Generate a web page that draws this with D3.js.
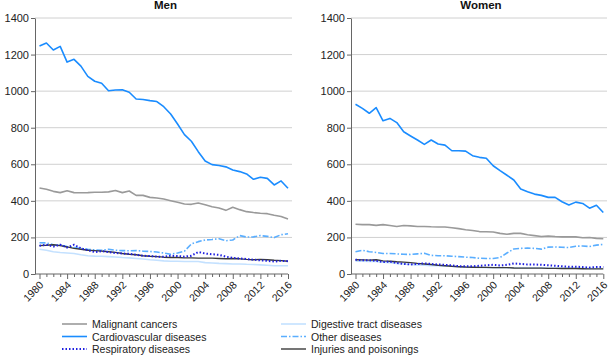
<!DOCTYPE html>
<html>
<head>
<meta charset="utf-8">
<script src="https://cdn.jsdelivr.net/npm/d3@7"></script>
<style>
  body { margin: 0; background: #fff; }
  svg { font-family: "Liberation Sans", Arial, sans-serif; }
  .grid line { stroke: #d0d0d0; stroke-width: 1; }
  .axis path, .axis line { stroke: #666; }
  .axis text { fill: #222; font-size: 11px; }
</style>
</head>
<body>
<svg id="chart" width="609" height="357"></svg>
<script>
var years = d3.range(1980, 2017);
var yTicks = [0, 200, 400, 600, 800, 1000, 1200, 1400];

var causes = ["Malignant cancers", "Cardiovascular diseases", "Respiratory diseases",
              "Digestive tract diseases", "Other diseases", "Injuries and poisonings"];

// men
var menMalignant = [470,463,452,445,455,445,444,445,447,447,449,457,445,454,430,430,419,416,410,401,392,383,381,388,379,368,361,348,365,352,341,336,332,330,321,314,301];
var menCardio = [1247,1263,1225,1245,1159,1174,1137,1081,1054,1043,1002,1006,1008,994,957,954,948,943,915,875,820,762,726,669,618,598,593,586,569,560,547,518,529,523,487,509,469];
var menResp = [155,160,150,160,145,160,140,130,120,125,120,115,112,110,105,100,98,95,95,100,98,95,100,120,112,108,105,95,88,85,82,78,75,72,68,72,70];
var menDigest = [135,130,122,118,115,112,105,100,98,97,95,93,90,88,85,82,78,75,72,70,70,68,68,68,62,60,58,57,55,55,53,52,50,48,45,45,45];
var menOther = [171,170,160,158,150,145,140,135,132,130,135,130,128,127,128,125,123,120,115,108,115,125,164,177,186,189,193,182,186,210,202,203,210,206,199,215,220];
var menInjury = [155,157,160,155,148,140,135,130,128,125,122,118,112,108,105,100,97,95,92,90,90,88,88,87,87,87,85,83,85,83,80,78,80,78,75,73,70];

// women
var womenMalignant = [272,270,270,266,270,265,260,265,263,260,260,258,257,257,253,248,242,238,232,231,230,222,217,222,222,215,210,205,208,205,203,203,203,198,200,195,193];
var womenCardio = [928,906,879,910,838,851,828,778,755,733,709,733,711,705,674,674,672,647,638,633,592,565,540,514,465,450,437,430,419,419,395,377,393,386,360,376,336];
var womenResp = [78,75,75,72,65,68,60,55,52,55,58,55,52,50,47,43,42,42,45,48,50,47,50,58,55,52,52,50,48,45,42,40,40,38,35,38,38];
var womenDigest = [70,70,68,68,65,62,58,55,52,50,48,46,45,43,42,40,38,37,36,35,35,35,34,34,34,34,34,34,33,33,32,32,32,31,31,30,30];
var womenOther = [122,130,122,118,112,112,110,108,107,110,113,102,100,100,97,95,92,90,86,85,85,90,115,137,140,142,140,136,147,148,146,145,152,153,150,158,162];
var womenInjury = [78,77,76,78,72,70,67,65,62,58,55,52,48,45,42,40,38,37,36,36,35,35,35,33,32,32,32,32,31,31,30,30,30,29,28,28,28];

var styles = [
  {color: "#9a9a9a", width: 1.6, dash: null},
  {color: "#1a8cff", width: 1.6, dash: null},
  {color: "#1f1fe0", width: 2, dash: "1.5,2"},
  {color: "#c4e1ff", width: 1.6, dash: null},
  {color: "#5aaeff", width: 1.6, dash: "6,2,1.5,2"},
  {color: "#3a3a3a", width: 1.4, dash: null}
];

var svg = d3.select("#chart");

function drawPanel(title, left, right, gridRight, series){
  var g = svg.append("g");
  var x = d3.scaleLinear().domain([1980, 2016]).range([left + 4.5, right]);
  var y = d3.scaleLinear().domain([0, 1400]).range([274, 18]);

  g.append("g").attr("class", "grid")
    .selectAll("line").data(yTicks.slice(1)).enter().append("line")
    .attr("x1", left).attr("x2", gridRight)
    .attr("y1", function(d){return y(d);}).attr("y2", function(d){return y(d);});

  var line = d3.line()
    .x(function(d, i){return x(years[i]);})
    .y(function(d){return y(d);});

  // lighter series first so the dark ones sit on top
  [3, 4, 0, 5, 2, 1].forEach(function(k){
    g.append("path")
      .datum(series[k])
      .attr("fill", "none")
      .attr("stroke", styles[k].color)
      .attr("stroke-width", styles[k].width)
      .attr("stroke-dasharray", styles[k].dash)
      .attr("stroke-linejoin", "round")
      .attr("d", line);
  });

  var yAxis = g.append("g").attr("class", "axis")
    .attr("transform", "translate(" + left + ",0)")
    .call(d3.axisLeft(y).tickValues(yTicks).tickSize(4).tickSizeOuter(0).tickFormat(d3.format("d")));
  yAxis.selectAll("text").attr("x", -6);

  var xAxis = g.append("g").attr("class", "axis")
    .attr("transform", "translate(0,274)")
    .call(d3.axisBottom(x).tickValues(years).tickSizeOuter(0)
      .tickSize(3).tickFormat(function(d){return d % 4 === 0 ? d : "";}));
  xAxis.select(".domain").attr("d", "M" + left + ",0H" + right);
  xAxis.selectAll(".tick line").attr("y2", function(d){return d % 4 === 0 ? 5 : 3;});
  xAxis.selectAll(".tick text")
    .style("font-size", "10.5px")
    .attr("text-anchor", "end")
    .attr("dx", "-0.5em").attr("dy", "0.5em")
    .attr("transform", "rotate(-45)")
    .attr("y", 6).attr("x", 0);

  svg.append("text")
    .attr("x", (left + gridRight) / 2 + 2).attr("y", 9)
    .attr("text-anchor", "middle")
    .attr("font-weight", "bold")
    .attr("font-size", "11.5px")
    .attr("fill", "#111")
    .text(title);
}

drawPanel("Men", 35, 288, 292, [menMalignant, menCardio, menResp, menDigest, menOther, menInjury]);
drawPanel("Women", 351, 603.3, 607, [womenMalignant, womenCardio, womenResp, womenDigest, womenOther, womenInjury]);

// legend
var legend = svg.append("g");
causes.forEach(function(c, i){
  var col = Math.floor(i / 3), row = i % 3;
  var lx = col === 0 ? 62 : 281, ly = 324 + row * 12.5;
  var lg = legend.append("g").attr("transform", "translate(" + lx + "," + ly + ")");
  lg.append("line").attr("x1", 0).attr("x2", 25).attr("y1", 0).attr("y2", 0)
    .attr("stroke", styles[i].color)
    .attr("stroke-width", styles[i].width)
    .attr("stroke-dasharray", styles[i].dash);
  lg.append("text").attr("x", 30).attr("y", 4)
    .attr("font-size", "10.5px").attr("fill", "#222")
    .text(c);
});
</script>
</body>
</html>
